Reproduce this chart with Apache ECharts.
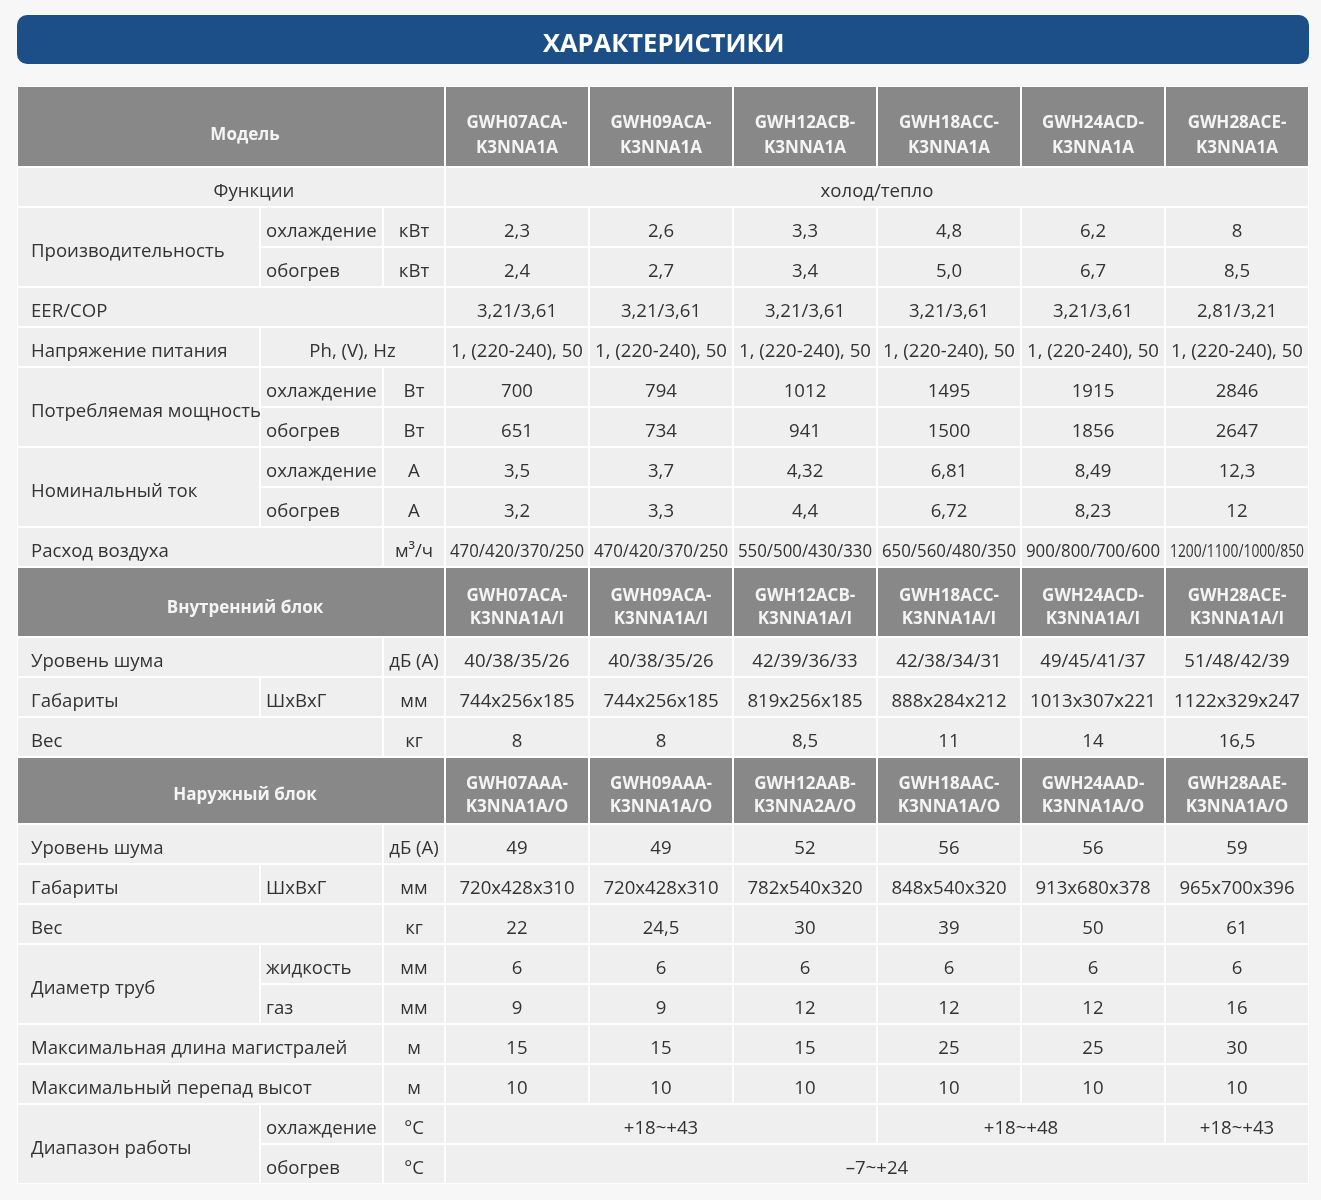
<!DOCTYPE html>
<html>
<head>
<meta charset="utf-8">
<title>Характеристики</title>
<script src="https://cdn.jsdelivr.net/npm/echarts@6/dist/echarts.min.js"></script>
<style>
    html, body {margin: 0; padding: 0; background: #f7f7f7;}
    #chart {width: 1321px; height: 1200px;}
</style>
</head>
<body>
<div id="chart"></div>
<script>
// модели
var models = ['GWH07ACA-K3NNA1A', 'GWH09ACA-K3NNA1A', 'GWH12ACB-K3NNA1A', 'GWH18ACC-K3NNA1A', 'GWH24ACD-K3NNA1A', 'GWH28ACE-K3NNA1A'];
var indoorModels = ['GWH07ACA-K3NNA1A/I', 'GWH09ACA-K3NNA1A/I', 'GWH12ACB-K3NNA1A/I', 'GWH18ACC-K3NNA1A/I', 'GWH24ACD-K3NNA1A/I', 'GWH28ACE-K3NNA1A/I'];
var outdoorModels = ['GWH07AAA-K3NNA1A/O', 'GWH09AAA-K3NNA1A/O', 'GWH12AAB-K3NNA2A/O', 'GWH18AAC-K3NNA1A/O', 'GWH24AAD-K3NNA1A/O', 'GWH28AAE-K3NNA1A/O'];

// общие
var functionsText = 'холод/тепло';
var capCool = ['2,3', '2,6', '3,3', '4,8', '6,2', '8'];
var capHeat = ['2,4', '2,7', '3,4', '5,0', '6,7', '8,5'];
var eerCop = ['3,21/3,61', '3,21/3,61', '3,21/3,61', '3,21/3,61', '3,21/3,61', '2,81/3,21'];
var voltage = ['1, (220-240), 50', '1, (220-240), 50', '1, (220-240), 50', '1, (220-240), 50', '1, (220-240), 50', '1, (220-240), 50'];
var powerCool = ['700', '794', '1012', '1495', '1915', '2846'];
var powerHeat = ['651', '734', '941', '1500', '1856', '2647'];
var currentCool = ['3,5', '3,7', '4,32', '6,81', '8,49', '12,3'];
var currentHeat = ['3,2', '3,3', '4,4', '6,72', '8,23', '12'];
var airflow = ['470/420/370/250', '470/420/370/250', '550/500/430/330', '650/560/480/350', '900/800/700/600', '1200/1100/1000/850'];

// внутренний блок
var inNoise = ['40/38/35/26', '40/38/35/26', '42/39/36/33', '42/38/34/31', '49/45/41/37', '51/48/42/39'];
var inSize = ['744x256x185', '744x256x185', '819x256x185', '888x284x212', '1013x307x221', '1122x329x247'];
var inWeight = ['8', '8', '8,5', '11', '14', '16,5'];

// наружный блок
var outNoise = ['49', '49', '52', '56', '56', '59'];
var outSize = ['720x428x310', '720x428x310', '782x540x320', '848x540x320', '913x680x378', '965x700x396'];
var outWeight = ['22', '24,5', '30', '39', '50', '61'];
var pipeLiquid = ['6', '6', '6', '6', '6', '6'];
var pipeGas = ['9', '9', '12', '12', '12', '16'];
var maxLength = ['15', '15', '15', '25', '25', '30'];
var maxHeight = ['10', '10', '10', '10', '10', '10'];
var rangeCool = ['+18~+43', '+18~+48', '+18~+43'];
var rangeCoolSpan = [3, 2, 1];
var rangeHeat = '–7~+24';

// раскладка таблицы
var colWidths = [243, 123, 62, 144, 144, 144, 144, 144, 144];
var rowHeights = [81, 40, 40, 40, 40, 40, 40, 40, 40, 40, 40, 70, 40, 40, 40, 67, 40, 40, 40, 40, 40, 40, 40, 40, 40];
var bodyFont = 18.6, headFont = 17;

var colEdge = [0], rowEdge = [0];
colWidths.forEach(function (w, i) { colEdge.push(colEdge[i] + w); });
rowHeights.forEach(function (h, i) { rowEdge.push(rowEdge[i] + h); });

var cells = [];
function cell(c0, c1, r0, r1, text, kind, opt) {
    var o = {c0: c0, c1: c1, r0: r0, r1: r1, text: text, kind: kind};
    if (opt) for (var k in opt) o[k] = opt[k];
    cells.push(o);
}
function head(r, label, list, dy, lh) {
    cell(0, 2, r, r, label, 'head', {dx: 14, dy: dy, lh: lh});
    list.forEach(function (m, i) {
        cell(3 + i, 3 + i, r, r, m.replace('-', '-\n'), 'head', {dy: dy, lh: lh});
    });
}
function vals(r, list, opt) {
    list.forEach(function (v, i) { cell(3 + i, 3 + i, r, r, v, 'val', opt); });
}

// фон таблицы
cell(0, 8, 0, rowHeights.length - 1, '', 'bg');

head(0, 'Модель', models, 9, 25);
cell(0, 2, 1, 1, 'Функции', 'val', {dx: 23});
cell(3, 8, 1, 1, functionsText, 'val');

cell(0, 0, 2, 3, 'Производительность', 'label');
cell(1, 1, 2, 2, 'охлаждение', 'sub'); cell(2, 2, 2, 2, 'кВт', 'val'); vals(2, capCool);
cell(1, 1, 3, 3, 'обогрев', 'sub'); cell(2, 2, 3, 3, 'кВт', 'val'); vals(3, capHeat);

cell(0, 2, 4, 4, 'EER/COP', 'label'); vals(4, eerCop);
cell(0, 0, 5, 5, 'Напряжение питания', 'label'); cell(1, 2, 5, 5, 'Ph, (V), Hz', 'val'); vals(5, voltage);

cell(0, 0, 6, 7, 'Потребляемая мощность', 'label');
cell(1, 1, 6, 6, 'охлаждение', 'sub'); cell(2, 2, 6, 6, 'Вт', 'val'); vals(6, powerCool);
cell(1, 1, 7, 7, 'обогрев', 'sub'); cell(2, 2, 7, 7, 'Вт', 'val'); vals(7, powerHeat);

cell(0, 0, 8, 9, 'Номинальный ток', 'label');
cell(1, 1, 8, 8, 'охлаждение', 'sub'); cell(2, 2, 8, 8, 'А', 'val'); vals(8, currentCool);
cell(1, 1, 9, 9, 'обогрев', 'sub'); cell(2, 2, 9, 9, 'А', 'val'); vals(9, currentHeat);

cell(0, 1, 10, 10, 'Расход воздуха', 'label'); cell(2, 2, 10, 10, 'м³/ч', 'val'); vals(10, airflow, {fit: 134});

head(11, 'Внутренний блок', indoorModels, 6, 23);
cell(0, 1, 12, 12, 'Уровень шума', 'label'); cell(2, 2, 12, 12, 'дБ (А)', 'val'); vals(12, inNoise);
cell(0, 0, 13, 13, 'Габариты', 'label'); cell(1, 1, 13, 13, 'ШхВхГ', 'sub'); cell(2, 2, 13, 13, 'мм', 'val'); vals(13, inSize);
cell(0, 1, 14, 14, 'Вес', 'label'); cell(2, 2, 14, 14, 'кг', 'val'); vals(14, inWeight);

head(15, 'Наружный блок', outdoorModels, 5, 23);
cell(0, 1, 16, 16, 'Уровень шума', 'label'); cell(2, 2, 16, 16, 'дБ (А)', 'val'); vals(16, outNoise);
cell(0, 0, 17, 17, 'Габариты', 'label'); cell(1, 1, 17, 17, 'ШхВхГ', 'sub'); cell(2, 2, 17, 17, 'мм', 'val'); vals(17, outSize);
cell(0, 1, 18, 18, 'Вес', 'label'); cell(2, 2, 18, 18, 'кг', 'val'); vals(18, outWeight);
cell(0, 0, 19, 20, 'Диаметр труб', 'label');
cell(1, 1, 19, 19, 'жидкость', 'sub'); cell(2, 2, 19, 19, 'мм', 'val'); vals(19, pipeLiquid);
cell(1, 1, 20, 20, 'газ', 'sub'); cell(2, 2, 20, 20, 'мм', 'val'); vals(20, pipeGas);
cell(0, 1, 21, 21, 'Максимальная длина магистралей', 'label'); cell(2, 2, 21, 21, 'м', 'val'); vals(21, maxLength);
cell(0, 1, 22, 22, 'Максимальный перепад высот', 'label'); cell(2, 2, 22, 22, 'м', 'val'); vals(22, maxHeight);
cell(0, 0, 23, 24, 'Диапазон работы', 'label');
cell(1, 1, 23, 23, 'охлаждение', 'sub'); cell(2, 2, 23, 23, '°C', 'val');
var c = 3;
rangeCool.forEach(function (t, i) {
    cell(c, c + rangeCoolSpan[i] - 1, 23, 23, t, 'val');
    c += rangeCoolSpan[i];
});
cell(1, 1, 24, 24, 'обогрев', 'sub'); cell(2, 2, 24, 24, '°C', 'val');
cell(3, 8, 24, 24, rangeHeat, 'val');

var cellData = cells.map(function (o) {
    return [colEdge[o.c0], colEdge[o.c1 + 1], rowEdge[o.r0], rowEdge[o.r1 + 1]];
});

var measureCtx = document.createElement('canvas').getContext('2d');
measureCtx.font = bodyFont + 'px "Open Sans"';

var chart = echarts.init(document.getElementById('chart'));
chart.setOption({
    backgroundColor: '#f7f7f7',
    animation: false,
    graphic: [
        {
            type: 'rect', left: 17, top: 15,
            shape: {width: 1292, height: 49, r: 10},
            style: {fill: '#1c4f87'}
        },
        {
            type: 'text', left: 543, top: 32,
            style: {text: 'ХАРАКТЕРИСТИКИ', fill: '#fff', fontSize: 25.5, fontWeight: 'bold', fontFamily: 'Open Sans'}
        }
    ],
    grid: {left: 17, top: 86, width: colEdge[colEdge.length - 1], height: rowEdge[rowEdge.length - 1]},
    xAxis: {type: 'value', min: 0, max: colEdge[colEdge.length - 1], show: false},
    yAxis: {type: 'value', min: 0, max: rowEdge[rowEdge.length - 1], inverse: true, show: false},
    series: [{
        type: 'custom',
        data: cellData,
        renderItem: function (params, api) {
            var o = cells[params.dataIndex];
            var p0 = api.coord([api.value(0), api.value(2)]);
            var p1 = api.coord([api.value(1), api.value(3)]);
            if (o.kind === 'bg') {
                return {type: 'rect', shape: {x: p0[0], y: p0[1], width: p1[0] - p0[0], height: p1[1] - p0[1]}, style: {fill: '#ffffff'}};
            }
            var isHead = o.kind === 'head';
            var tx, align = 'center';
            if (o.kind === 'label') { tx = p0[0] + 14; align = 'left'; }
            else if (o.kind === 'sub') { tx = p0[0] + 6; align = 'left'; }
            else { tx = (p0[0] + p1[0]) / 2 + (o.dx || 0); }
            var sx = 1;
            if (o.fit) {
                var tw = measureCtx.measureText(o.text).width;
                sx = Math.min(1, o.fit / tw);
            }
            var dy = o.dy != null ? o.dy : 5;
            return {
                type: 'group',
                children: [
                    {
                        type: 'rect', z2: 0,
                        shape: {x: p0[0] + 1, y: p0[1] + 1, width: p1[0] - p0[0] - 2, height: p1[1] - p0[1] - 2},
                        style: {fill: isHead ? '#888888' : '#efefef'}
                    },
                    {
                        type: 'text', z2: 10,
                        x: tx, y: (p0[1] + p1[1]) / 2 + dy, scaleX: sx,
                        style: {
                            text: o.text, x: 0, y: 0,
                            fill: isHead ? '#f4f4f4' : '#333333',
                            fontSize: isHead ? headFont : bodyFont,
                            fontWeight: isHead ? 'bold' : 'normal',
                            fontFamily: 'Open Sans',
                            lineHeight: o.lh || 25,
                            align: align, verticalAlign: 'middle'
                        }
                    }
                ]
            };
        }
    }]
});
</script>
</body>
</html>
